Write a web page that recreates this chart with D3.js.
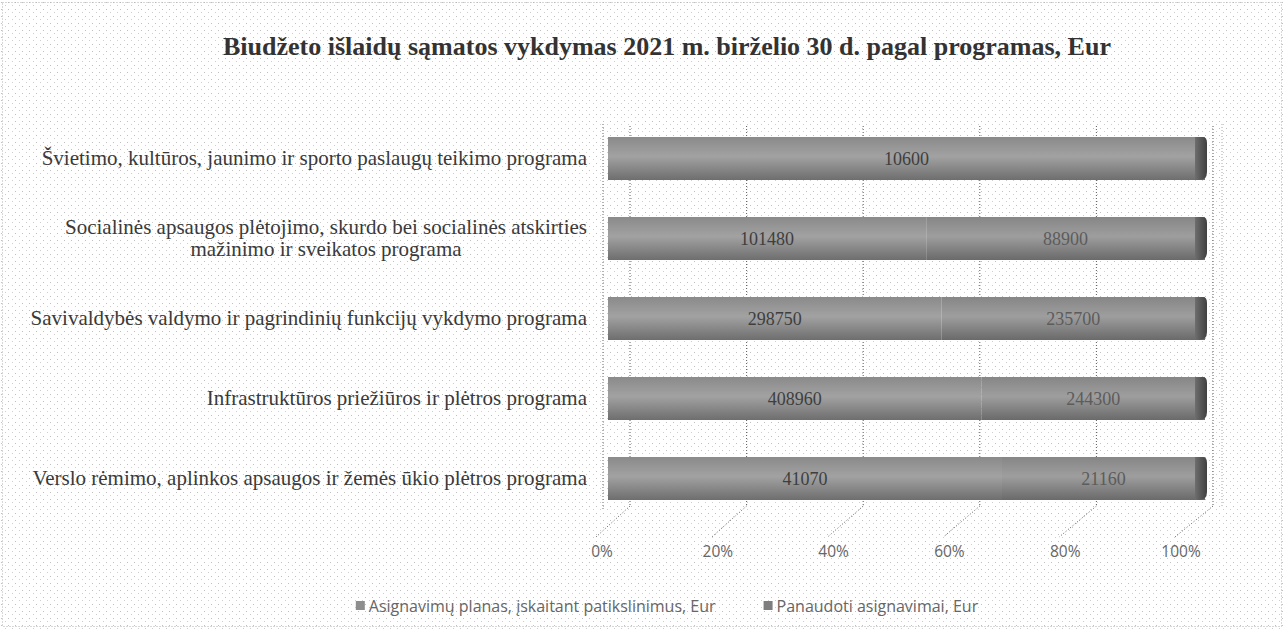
<!DOCTYPE html>
<html>
<head>
<meta charset="utf-8">
<script src="https://cdn.jsdelivr.net/npm/d3@7"></script>
<style>
  html, body { margin: 0; padding: 0; background: #fff; }
  svg { display: block; }
</style>
</head>
<body>
<div id="chart"></div>
<script>
// data (labels mostly illegible, values estimated)
const categories = [
    "Švietimo, kultūros, jaunimo ir sporto paslaugų teikimo programa",
    "Socialinės apsaugos plėtojimo, skurdo bei socialinės atskirties mažinimo ir sveikatos programa",
    "Savivaldybės valdymo ir pagrindinių funkcijų vykdymo programa",
    "Infrastruktūros priežiūros ir plėtros programa",
    "Verslo rėmimo, aplinkos apsaugos ir žemės ūkio plėtros programa"
];
const planValues = [10600, 101480, 298750, 408960, 41070];
const usedValues = [0, 88900, 235700, 244300, 21160];
const seriesNames = ["Asignavimų planas, įskaitant patikslinimus, Eur", "Panaudoti asignavimai, Eur"];
const tickLabels = ["0%", "20%", "40%", "60%", "80%", "100%"];
const titleText = "Biudžeto išlaidų sąmatos vykdymas 2021 m. birželio 30 d. pagal programas, Eur";

const width = 1284, height = 629;
const serif = "'Liberation Serif', 'Times New Roman', serif";
const sans = "'Open Sans', 'Noto Sans', sans-serif";

const rows = categories.map((c, i) => ({ name: c, plan: planValues[i], used: usedValues[i] }));
const stacked = d3.stack().keys(["plan", "used"]).offset(d3.stackOffsetExpand)(rows);

const svg = d3.select("#chart").append("svg")
    .attr("width", width)
    .attr("height", height);

const defs = svg.append("defs");

// speckled scan background
const pat = defs.append("pattern")
    .attr("id", "speckle")
    .attr("width", 7).attr("height", 7)
    .attr("patternUnits", "userSpaceOnUse");
pat.append("rect").attr("width", 7).attr("height", 7).attr("fill", "#fff");
pat.append("rect").attr("x", 1).attr("y", 2).attr("width", 1).attr("height", 1).attr("fill", "#c0c0c0");
pat.append("rect").attr("x", 5).attr("y", 5).attr("width", 1).attr("height", 1).attr("fill", "#cecece");

const grads = [["barA", "#8a8a8a", "#a2a2a2", "#6e6e6e"], ["barB", "#868686", "#9e9e9e", "#6a6a6a"]];
grads.forEach(([id, top, mid, bottom]) => {
    const g = defs.append("linearGradient").attr("id", id)
        .attr("x1", 0).attr("y1", 0).attr("x2", 0).attr("y2", 1);
    g.append("stop").attr("offset", "0%").attr("stop-color", top);
    g.append("stop").attr("offset", "45%").attr("stop-color", mid);
    g.append("stop").attr("offset", "100%").attr("stop-color", bottom);
});
const capGrad = defs.append("linearGradient").attr("id", "cap")
    .attr("x1", 0).attr("y1", 0).attr("x2", 1).attr("y2", 0);
capGrad.append("stop").attr("offset", "0%").attr("stop-color", "#6e6e6e");
capGrad.append("stop").attr("offset", "100%").attr("stop-color", "#404040");

svg.append("rect")
    .attr("x", 0).attr("y", 0).attr("width", width).attr("height", height)
    .attr("fill", "url(#speckle)");
svg.append("rect")
    .attr("x", 2.5).attr("y", 2.5).attr("width", width - 5).attr("height", height - 5)
    .attr("fill", "none").attr("stroke", "#b0b0b0").attr("stroke-dasharray", "1,2");

// title
svg.append("text")
    .attr("x", 667).attr("y", 55)
    .attr("text-anchor", "middle")
    .style("font-family", serif)
    .style("font-weight", "bold")
    .style("font-size", "26px")
    .attr("fill", "#333")
    .text(titleText);

// scales: bars, back wall (gridlines), front floor edge (tick labels)
const x = d3.scaleLinear().domain([0, 1]).range([608, 1205]);
const xBack = d3.scaleLinear().domain([0, 1]).range([630, 1213]);
const xFront = d3.scaleLinear().domain([0, 1]).range([602, 1181]);
const y = d3.scaleBand().domain(categories).range([117, 520]).paddingInner(0.4625).paddingOuter(0.25);

const ticks = d3.range(0, 1.0001, 0.2);
const floorTop = 506, floorBottom = 537;

// gridlines on the back wall
svg.append("g").selectAll("line")
    .data(ticks)
    .join("line")
    .attr("x1", d => xBack(d)).attr("x2", d => xBack(d))
    .attr("y1", 126).attr("y2", floorTop)
    .attr("stroke", "#5a5a5a").attr("stroke-width", 1)
    .attr("stroke-dasharray", "1,2");

// floor lines
svg.append("g").selectAll("line")
    .data(ticks)
    .join("line")
    .attr("x1", d => xBack(d)).attr("y1", floorTop)
    .attr("x2", d => xFront(d) - 6).attr("y2", floorBottom)
    .attr("stroke", "#5a5a5a").attr("stroke-width", 1)
    .attr("stroke-dasharray", "1,2");

// side wall edges
svg.append("line")
    .attr("x1", 603).attr("x2", 603).attr("y1", 124).attr("y2", floorTop + 4)
    .attr("stroke", "#6a6a6a").attr("stroke-dasharray", "1,2");
svg.append("line")
    .attr("x1", 1222).attr("x2", 1222).attr("y1", 124).attr("y2", floorTop)
    .attr("stroke", "#a8a8a8").attr("stroke-dasharray", "1,2");

// tick labels
svg.append("g").selectAll("text")
    .data(ticks)
    .join("text")
    .attr("x", d => xFront(d))
    .attr("y", 557)
    .attr("text-anchor", "middle")
    .style("font-family", sans)
    .style("font-size", "15.5px")
    .attr("fill", "#666")
    .text((d, i) => tickLabels[i]);

// bars
const barG = svg.append("g");
stacked.forEach((series, si) => {
    barG.append("g").selectAll("rect")
        .data(series.filter(d => d[1] - d[0] > 0))
        .join("rect")
        .attr("x", d => x(d[0]))
        .attr("y", d => y(d.data.name))
        .attr("width", d => x(d[1]) - x(d[0]))
        .attr("height", y.bandwidth())
        .attr("fill", si === 0 ? "url(#barA)" : "url(#barB)");
});

// darker rounded end of each bar
barG.append("g").selectAll("path")
    .data(rows)
    .join("path")
    .attr("d", d => {
        const x1 = x(1), y0 = y(d.name), h = y.bandwidth();
        return `M${x1 - 10},${y0} L${x1 - 2},${y0} Q${x1 + 2},${y0} ${x1 + 2},${y0 + 6} L${x1 + 2},${y0 + h - 8} Q${x1 + 2},${y0 + h} ${x1 - 6},${y0 + h} L${x1 - 10},${y0 + h} Z`;
    })
    .attr("fill", "url(#cap)");

// value labels
const fmt = d3.format("d");
stacked.forEach(series => {
    svg.append("g").selectAll("text")
        .data(series.filter(d => d[1] - d[0] > 0))
        .join("text")
        .attr("x", d => x((d[0] + d[1]) / 2))
        .attr("y", d => y(d.data.name) + y.bandwidth() / 2)
        .attr("dy", "0.35em")
        .attr("text-anchor", "middle")
        .style("font-family", serif)
        .style("font-size", "18px")
        .attr("fill", series.key === "plan" ? "#3e3e3e" : "#5c5c5c")
        .text(d => fmt(d.data[series.key]));
});

// category labels, wrapped, block right-aligned
const labelRight = 587, maxWidth = 586, lineH = 22;
const catG = svg.append("g")
    .style("font-family", serif)
    .style("font-size", "21px")
    .attr("fill", "#3a3a3a");
categories.forEach(name => {
    const words = name.split(" ");
    const lines = [];
    let line = [];
    const probe = catG.append("text");
    words.forEach(w => {
        line.push(w);
        probe.text(line.join(" "));
        if (probe.node().getComputedTextLength() > maxWidth && line.length > 1) {
            line.pop();
            lines.push(line.join(" "));
            line = [w];
        }
    });
    lines.push(line.join(" "));
    const widths = lines.map(l => { probe.text(l); return probe.node().getComputedTextLength(); });
    probe.remove();
    const blockW = d3.max(widths);
    const cy = y(name) + y.bandwidth() / 2 - 1;
    const startY = cy - (lines.length - 1) * lineH / 2;
    lines.forEach((l, i) => {
        catG.append("text")
            .attr("x", labelRight - blockW / 2)
            .attr("y", startY + i * lineH)
            .attr("dy", "0.35em")
            .attr("text-anchor", "middle")
            .text(l);
    });
});

// legend
const legendG = svg.append("g")
    .style("font-family", sans)
    .style("font-size", "16px")
    .attr("fill", "#666");
let lx = 0;
seriesNames.forEach((s, i) => {
    const it = legendG.append("g").attr("transform", `translate(${lx},0)`);
    it.append("rect")
        .attr("x", 0).attr("y", -5).attr("width", 9).attr("height", 9)
        .attr("fill", i === 0 ? "#8e8e8e" : "#7e7e7e");
    const t = it.append("text").attr("x", 13).attr("dy", "0.35em").text(s);
    lx += 13 + t.node().getComputedTextLength() + 48;
});
const legendW = lx - 48;
legendG.attr("transform", `translate(${667 - legendW / 2},606)`);
</script>
</body>
</html>
